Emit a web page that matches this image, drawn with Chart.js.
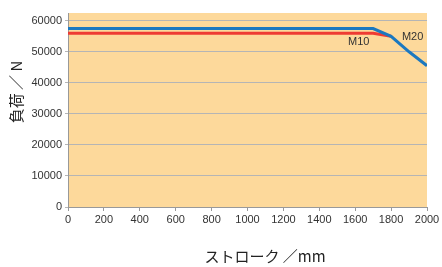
<!DOCTYPE html>
<html>
<head>
<meta charset="utf-8">
<script src="https://cdn.jsdelivr.net/npm/chart.js@4/dist/chart.umd.min.js"></script>
<style>
  html, body { margin: 0; padding: 0; background: #fff; }
  #wrap { width: 442px; height: 267px; }
</style>
</head>
<body>
<div id="wrap"><canvas id="chart"></canvas></div>
<script>
// stroke (mm) vs load (N)
const m10Stroke = [0, 1700, 1800];
const m10Load   = [56000, 56000, 55000];
const m20Stroke = [0, 1700, 1800, 1900, 2000];
const m20Load   = [57500, 57500, 55000, 50000, 45500];
const xTicks = [0, 200, 400, 600, 800, 1000, 1200, 1400, 1600, 1800, 2000];
const yTicks = [0, 10000, 20000, 30000, 40000, 50000, 60000];
const lineLabels = [
  { text: "M10", x: 1620, y: 53100 },
  { text: "M20", x: 1920, y: 54700 }
];

const FONT = "'Liberation Sans', Arial, sans-serif";
const JP = "'Noto Sans CJK JP', sans-serif";

const toPts = (xs, ys) => xs.map((x, i) => ({ x: x, y: ys[i] }));

const areaBg = {
  id: "areaBg",
  beforeDraw(chart) {
    const { ctx, chartArea: a } = chart;
    ctx.save();
    ctx.fillStyle = "#fdd99b";
    ctx.fillRect(a.left, a.top, a.right - a.left, a.bottom - a.top);
    ctx.restore();
  }
};

const extras = {
  id: "extras",
  afterDatasetsDraw(chart) {
    const { ctx, scales } = chart;
    ctx.save();
    ctx.fillStyle = "#333";
    ctx.font = "11px " + FONT;
    ctx.textAlign = "center";
    ctx.textBaseline = "middle";
    lineLabels.forEach(l => {
      ctx.fillText(l.text, scales.x.getPixelForValue(l.x), scales.y.getPixelForValue(l.y));
    });
    // axis titles
    ctx.fillStyle = "#222";
    ctx.font = "15px " + JP;
    ctx.fillText("ストローク ／mm", 265, 256);
    ctx.translate(16, 92);
    ctx.rotate(-Math.PI / 2);
    ctx.fillText("負荷 ／ N", 0, 0);
    ctx.restore();
  }
};

new Chart(document.getElementById("chart"), {
  type: "line",
  data: {
    datasets: [
      {
        label: "M20",
        data: toPts(m20Stroke, m20Load),
        borderColor: "#1b78c0",
        borderWidth: 3,
        pointRadius: 0,
        fill: false,
        tension: 0
      },
      {
        label: "M10",
        data: toPts(m10Stroke, m10Load),
        borderColor: "#ee3b33",
        borderWidth: 3,
        pointRadius: 0,
        fill: false,
        tension: 0
      }
    ]
  },
  options: {
    responsive: true,
    maintainAspectRatio: false,
    animation: false,
    layout: { padding: { top: 13, right: 15, left: 0, bottom: 0 } },
    plugins: {
      legend: { display: false },
      tooltip: { enabled: false }
    },
    scales: {
      x: {
        type: "linear",
        min: 0,
        max: 2000,
        afterBuildTicks: s => { s.ticks = xTicks.map(v => ({ value: v })); },
        afterFit: s => { s.height = 60; },
        ticks: {
          color: "#333",
          font: { size: 11, family: FONT },
          padding: 2,
          maxRotation: 0,
          callback: v => String(v)
        },
        grid: { drawOnChartArea: false, color: "#999", tickLength: 4 },
        border: { color: "#999", width: 1 }
      },
      y: {
        min: 0,
        max: 62500,
        afterBuildTicks: s => { s.ticks = yTicks.map(v => ({ value: v })); },
        afterFit: s => { s.width = 68; },
        ticks: {
          color: "#333",
          font: { size: 11, family: FONT },
          padding: 3,
          callback: v => String(v)
        },
        grid: { color: "#b5b5b5", tickLength: 3, lineWidth: 1 },
        border: { color: "#999", width: 1 }
      }
    }
  },
  plugins: [areaBg, extras]
});
</script>
</body>
</html>
